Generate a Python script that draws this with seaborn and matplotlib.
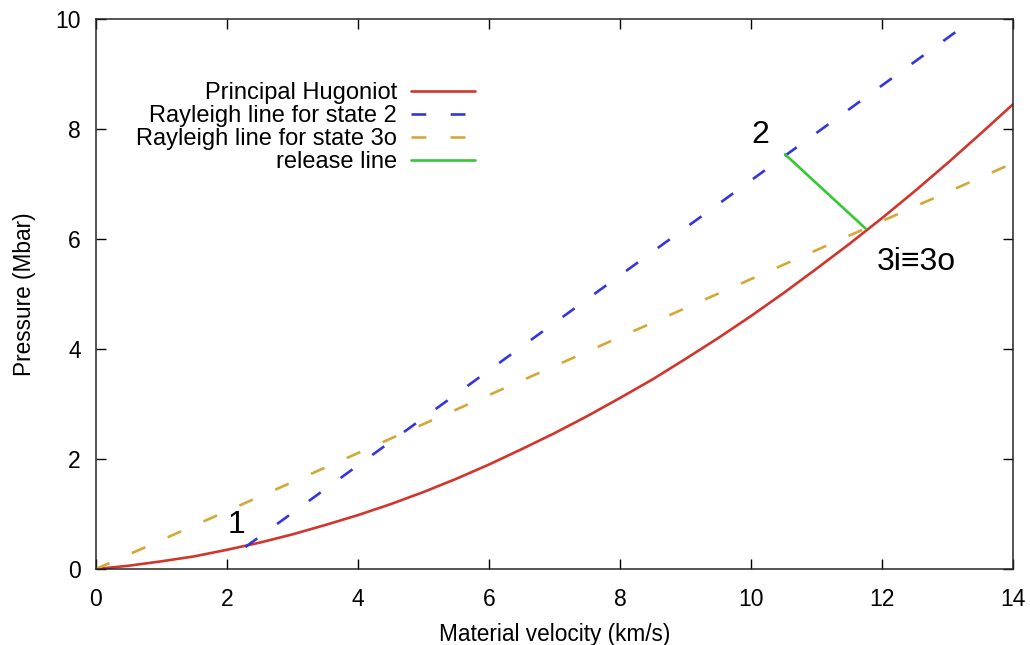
import seaborn as sns
import matplotlib.pyplot as plt
import pandas as pd

sns.set_style("ticks")
plt.rcParams['font.family'] = ['Liberation Sans', 'DejaVu Sans']
plt.rcParams['text.color'] = 'black'
plt.rcParams['axes.labelcolor'] = 'black'
plt.rcParams['xtick.color'] = 'black'
plt.rcParams['ytick.color'] = 'black'

# Principal Hugoniot
hug_u = [0, 0.5, 1, 1.5, 2, 2.5, 3, 3.5, 4, 4.5, 5, 5.5, 6, 6.5, 7, 7.5,
         8, 8.5, 9, 9.5, 10, 10.5, 11, 11.5, 12, 12.5, 13, 13.5, 14]
hug_p = [0, 0.06, 0.14, 0.23, 0.35, 0.48, 0.63, 0.80, 0.98, 1.18, 1.40, 1.64,
         1.90, 2.18, 2.47, 2.78, 3.11, 3.45, 3.82, 4.20, 4.60, 5.02, 5.46, 5.91,
         6.38, 6.87, 7.38, 7.91, 8.45]

# Rayleigh line for state 2 (from state 1 upward)
ray2_u = [2.28, 13.12]
ray2_p = [0.40, 9.76]

# Rayleigh line for state 3o (through origin)
ray3_u = [0.0, 14.0]
ray3_p = [0.0, 7.38]

# release line from state 2 to state 3
rel_u = [10.52, 11.75]
rel_p = [7.54, 6.19]

# point labels
pt_labels = ['1', '2', '3i\u22613o']
pt_u = [2.14, 10.14, 12.52]
pt_p = [0.80, 7.90, 5.58]

red, blue, gold, green = '#d1352c', '#3535dd', '#d4a838', '#35c835'

fig = plt.figure(figsize=(10.3, 6.45), dpi=100)
ax = fig.add_axes([0.0932, 0.1178, 0.8903, 0.8527])

lw = 1.9
dash = (0, (5.6, 9.25))
sns.lineplot(x=hug_u, y=hug_p, ax=ax, color=red, linewidth=lw,
             label='Principal Hugoniot', sort=False)
sns.lineplot(x=ray2_u, y=ray2_p, ax=ax, color=blue, linewidth=lw,
             linestyle=dash, label='Rayleigh line for state 2', sort=False)
sns.lineplot(x=ray3_u, y=ray3_p, ax=ax, color=gold, linewidth=lw,
             linestyle=dash, label='Rayleigh line for state 3o', sort=False)
sns.lineplot(x=rel_u, y=rel_p, ax=ax, color=green, linewidth=lw,
             label='release line', sort=False)

for lab, u, p in zip(pt_labels, pt_u, pt_p):
    ax.text(u, p, lab, fontsize=23, ha='center', va='center')

ax.set_xlim(0, 14)
ax.set_ylim(0, 10)
ax.set_xticks(range(0, 15, 2))
ax.set_yticks(range(0, 11, 2))
ax.tick_params(axis='x', pad=14)
ax.tick_params(axis='y', pad=11)
ax.tick_params(direction='in', length=7, width=1, top=True, right=True,
               labelsize=16.5)
for s in ax.spines.values():
    s.set_linewidth(1.1)
    s.set_visible(True)

ax.set_xlabel('Material velocity (km/s)', fontsize=16.3, labelpad=8)
ax.set_ylabel('Pressure (Mbar)', fontsize=16.3, labelpad=14)

ax.legend(loc='upper right', bbox_to_anchor=(0.413, 0.885), frameon=False,
          markerfirst=False, fontsize=17, handlelength=2.7, handletextpad=0.6,
          labelspacing=0.04, borderpad=0, borderaxespad=0)

plt.savefig('out.png', dpi=100)
